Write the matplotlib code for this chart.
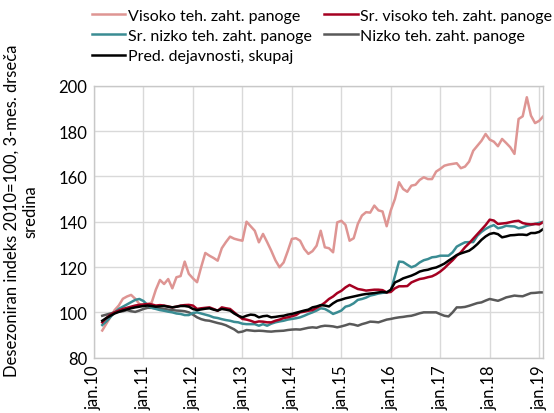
import numpy as np
import matplotlib
matplotlib.use("Agg")
import matplotlib.pyplot as plt

plt.rcParams['font.family'] = ['Lato', 'DejaVu Sans']

# months counted from jan.10 (0); 3-month moving average starts in mar.10
months = np.arange(2, 110)

visoko = [92, 95, 98, 101, 103, 106, 107, 107.7, 106, 103.7,
          103, 103.5, 104.4, 110, 114.3, 112.5, 114.7, 110.6, 115.5, 116,
          122.4, 117, 115, 113.3, 120, 126.2, 125, 124, 122.8, 128.3,
          131, 133.4, 132.5, 132, 131.6, 140, 138, 136, 130.9, 134.6,
          131, 127.2, 123, 119.9, 122, 127, 132.4, 132.7, 131.6, 128,
          125.8, 127, 129.4, 136, 128.7, 128.3, 126.5, 139.7, 140.4, 138.6,
          131.6, 132.7, 139, 142.7, 144.2, 144, 147.1, 145, 144.5, 138,
          145, 150, 157.4, 154.4, 153.2, 155.9, 156.3, 158.4, 159.6, 158.8,
          158.8, 162.1, 163.3, 164.7, 165.2, 165.5, 165.8, 163.6, 164.3, 166.5,
          171.3, 173.5, 175.7, 178.7, 176.2, 175.3, 173.3, 176.5, 174.7, 172.8,
          169.9, 185.3, 186.5, 194.9, 186.8, 183.5, 184.5, 186.5]

sr_visoko = [95.6, 97.5, 99, 100, 100.8, 101.5, 102, 102.5, 103, 103.3,
             103.5, 103.7, 103.5, 103, 103.2, 103, 102.6, 102.2, 102.5, 103,
             103.2, 103.3, 103, 101.5, 101.8, 102, 102.2, 101.5, 100.7, 102.2,
             101.8, 101.5, 100, 98.5, 97.1, 96.8, 96.3, 95.6, 96, 95.9,
             95.6, 95.6, 96.3, 96.8, 97.5, 97.8, 98.3, 98.8, 100, 100.3,
             100.7, 101, 102, 103, 104.3, 105.9, 107, 108.5, 109.5, 111,
             112.1, 111.2, 110.3, 110, 109.6, 109.8, 110, 110, 109.8, 108.8,
             109, 110.6, 111.5, 111.5, 111.6, 113.2, 114, 114.7, 115, 115.5,
             115.9, 116.8, 118, 119.5, 121.3, 123, 125, 126.5, 128.7, 130.5,
             132.5, 134.5, 136.5, 138.5, 140.9, 140.5, 139, 139.2, 139.4, 139.8,
             140.2, 140.4, 139.4, 139, 138.8, 139, 138.8, 139.8]

sr_nizko = [94.4, 96, 98, 100, 101.5, 102.5, 103.5, 104.5, 105.5, 105.9,
            105, 103.2, 102, 101.5, 101, 100.7, 100.3, 100, 99.5, 99.3,
            98.8, 98.8, 99.7, 100, 99.5, 99, 98.5, 97.8, 97.5, 97,
            96.6, 96.3, 95.8, 95.6, 95, 94.8, 94.8, 94.8, 94.1, 94.8,
            94.1, 95, 95.6, 96, 96.3, 96.8, 97.1, 97.4, 97.8, 98.5,
            99.3, 100, 100.8, 101.8, 101.5, 100.5, 99.3, 100, 100.8, 102.5,
            103, 104, 105.5, 105.9, 106.5, 107.4, 107.8, 108.3, 108.6, 108.8,
            109.5, 116, 122.4, 122.2, 121, 119.9, 120.6, 122, 123, 123.5,
            124.3, 124.5, 125, 125, 125, 126.5, 129, 130, 130.9, 131,
            131, 133.8, 135.5, 136.8, 137.8, 138.5, 137.1, 137.5, 138.2, 138,
            137.9, 137.1, 137.5, 138.2, 138.6, 139, 139.5, 140]

nizko = [98.5, 99, 99.5, 100, 100.3, 100.5, 101, 100.5, 100.2, 100.8,
         101.5, 102, 102, 101.8, 101.5, 101.5, 101.2, 101, 100.8, 100.7,
         100.5, 100, 99, 97.8, 97, 96.5, 96.3, 95.8, 95.3, 94.9,
         94.3, 93.4, 92.5, 91.2, 91.5, 92.2, 92, 91.8, 91.9, 91.8,
         91.6, 91.5, 91.7, 91.8, 91.9, 92.2, 92.4, 92.5, 92.4, 92.8,
         93.2, 93.4, 93.2, 93.8, 94.1, 94, 93.8, 93.4, 93.8, 94.3,
         94.9, 94.6, 94.1, 94.8, 95.3, 95.9, 95.8, 95.6, 96.2, 96.8,
         97.1, 97.5, 97.8, 98, 98.3, 98.5, 99, 99.6, 100, 100,
         100, 100, 99.2, 98.5, 98.2, 100, 102.2, 102.2, 102.4, 102.9,
         103.5, 104.1, 104.4, 105.2, 105.9, 105.5, 105.1, 105.8, 106.6, 107,
         107.4, 107.2, 107.1, 107.8, 108.5, 108.6, 108.8, 108.8]

skupaj = [96.3, 97.5, 98.5, 99.5, 100.2, 100.8, 101.3, 101.8, 102.2, 102.5,
          102.8, 103, 102.8, 102.5, 102.6, 102.8, 102.5, 102.2, 102.5, 102.8,
          102.8, 102.5, 101.5, 101, 101.3, 101.6, 101.8, 101.2, 100.8, 101.5,
          101.2, 100.8, 99.5, 98.5, 97.8, 98.5, 99, 98.8, 97.8, 98.3,
          98.5, 97.8, 98, 98.3, 98.5, 99, 99.3, 99.8, 100.3, 100.8,
          101.2, 102.2, 102.6, 103.2, 103, 102.6, 104, 105.1, 105.6, 106.2,
          106.6, 107, 107.4, 107.8, 108.1, 108.3, 108.5, 108.8, 109, 108.8,
          110, 113.2, 114, 115, 115.6, 116.2, 117, 118, 118.5, 118.8,
          119.4, 119.8, 120.6, 121.5, 122.8, 124, 125.3, 126, 126.6, 127.2,
          128.5, 130.1, 132, 133.5, 134.6, 135, 134.5, 133.1, 133.5, 134,
          134.1, 134.3, 134.3, 134.1, 135, 135, 135.5, 136.8]

tick_pos = np.arange(0, 109, 12)
tick_labels = ['jan.10', 'jan.11', 'jan.12', 'jan.13', 'jan.14',
               'jan.15', 'jan.16', 'jan.17', 'jan.18', 'jan.19']

fig = plt.figure(figsize=(5.54, 4.14), dpi=100)
ax = fig.add_axes([0.1697, 0.1336, 0.811, 0.657])

l1, = ax.plot(months, visoko, color='#DE9593', lw=1.8, label='Visoko teh. zaht. panoge')
l4, = ax.plot(months, nizko, color='#595959', lw=1.8, label='Nizko teh. zaht. panoge')
l3, = ax.plot(months, sr_nizko, color='#3A8C93', lw=1.8, label='Sr. nizko teh. zaht. panoge')
l2, = ax.plot(months, sr_visoko, color='#A50021', lw=1.8, label='Sr. visoko teh. zaht. panoge')
l5, = ax.plot(months, skupaj, color='black', lw=1.8, label='Pred. dejavnosti, skupaj')

ax.set_xlim(0, 109)
ax.set_ylim(80, 200)
ax.set_yticks(np.arange(80, 201, 20))
ax.set_xticks(tick_pos)
ax.set_xticklabels(tick_labels, rotation=90)
ax.tick_params(length=0, labelsize=12, pad=5)
ax.grid(True, color='#D9D9D9', lw=1)
ax.set_axisbelow(True)
for s in ax.spines.values():
    s.set_color('#C8C8C8')
    s.set_linewidth(1)

fig.text(0.038, 0.49, 'Desezoniran indeks 2010=100, 3-mes. drseča\nsredina',
         rotation=90, ha='center', va='center', multialignment='center',
         fontsize=12, linespacing=1.2)

fig.legend(handles=[l1, l3, l5, l2, l4], ncol=2, loc='upper left',
           bbox_to_anchor=(0.148, 1.0), frameon=False, fontsize=11.5,
           handlelength=2.1, handletextpad=0.15, columnspacing=0.8,
           labelspacing=0.38, borderaxespad=0.2)

fig.savefig('out.png', dpi=100)
